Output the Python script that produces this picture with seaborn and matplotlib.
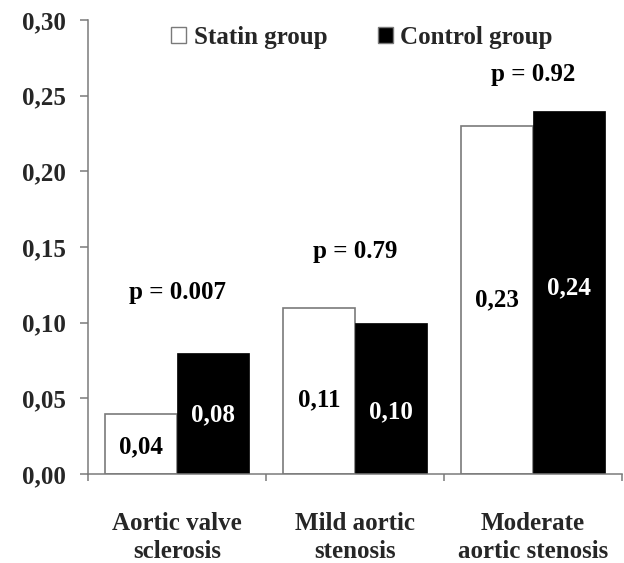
import numpy as np
import pandas as pd
import seaborn as sns
import matplotlib.pyplot as plt
from matplotlib.ticker import FuncFormatter, FixedLocator

# data
categories = ["Aortic valve\nsclerosis", "Mild aortic\nstenosis", "Moderate\naortic stenosis"]
groups = ["Statin group", "Control group"]
statin_values = [0.04, 0.11, 0.23]
control_values = [0.08, 0.10, 0.24]
value_labels_statin = ["0,04", "0,11", "0,23"]
value_labels_control = ["0,08", "0,10", "0,24"]
p_labels = ["p = 0.007", "p = 0.79", "p = 0.92"]
p_label_y = [0.120, 0.147, 0.264]
label_y_statin = [0.018, 0.049, 0.115]
label_y_control = [0.039, 0.041, 0.123]

df = pd.DataFrame({
    "category": categories * 2,
    "group": [groups[0]] * 3 + [groups[1]] * 3,
    "value": statin_values + control_values,
})

sns.set_style("white")
plt.rcParams["font.family"] = ["Liberation Serif", "DejaVu Serif"]
plt.rcParams["font.weight"] = "bold"

fig = plt.figure(figsize=(6.24, 5.63), dpi=100)
ax = fig.add_axes([0.141, 0.158, 0.856, 0.8065])

sns.barplot(data=df, x="category", y="value", hue="group", hue_order=groups,
            palette={"Statin group": "white", "Control group": "black"},
            width=0.81, gap=0, ax=ax, legend=True)

spine_col = "#7a7a7a"
for bar, fc in zip(ax.patches, ["white"] * 3 + ["black"] * 3):
    if fc == "white":
        bar.set_edgecolor(spine_col)
        bar.set_linewidth(1.2)
    else:
        bar.set_edgecolor("black")
        bar.set_linewidth(0.5)

fs = 18
offset = 0.81 / 4
for i in range(3):
    ax.text(i - offset, label_y_statin[i], value_labels_statin[i], ha="center", va="center",
            fontsize=fs, fontweight="bold", color="black")
    ax.text(i + offset, label_y_control[i], value_labels_control[i], ha="center", va="center",
            fontsize=fs, fontweight="bold", color="white")
    ax.text(i, p_label_y[i], p_labels[i], ha="center", va="center",
            fontsize=fs, fontweight="bold", color="black")

ax.set_ylim(0, 0.30)
ax.set_xlim(-0.5, 2.5)
ax.set_yticks(np.arange(0, 0.301, 0.05))
ax.yaxis.set_major_formatter(FuncFormatter(lambda v, _: f"{v:.2f}".replace(".", ",")))
ax.xaxis.set_minor_locator(FixedLocator([-0.5, 0.5, 1.5, 2.5]))
ax.tick_params(axis="x", which="major", length=0, pad=27, labelsize=fs)
ax.tick_params(axis="x", which="minor", length=5, width=1.1, color=spine_col, direction="out", bottom=True)
ax.tick_params(axis="y", length=6, width=1.1, color=spine_col, direction="out", pad=10, labelsize=fs, left=True)
for lab in ax.get_xticklabels() + ax.get_yticklabels():
    lab.set_fontweight("bold")
    lab.set_linespacing(1.3)
ax.set_xlabel("")
ax.set_ylabel("")

sns.despine(ax=ax)
for side in ["left", "bottom"]:
    ax.spines[side].set_color(spine_col)
    ax.spines[side].set_linewidth(1.1)

leg = ax.legend(loc="center", bbox_to_anchor=(0.513, 0.962), ncol=2, frameon=False,
                fontsize=fs, handlelength=0.6, handleheight=0.6, handletextpad=0.3,
                columnspacing=2.0, borderaxespad=0)
for h in leg.legend_handles:
    h.set_edgecolor(spine_col)
    h.set_linewidth(1.0)
for t in leg.get_texts():
    t.set_fontweight("bold")

fig.savefig("out.png", dpi=100)
